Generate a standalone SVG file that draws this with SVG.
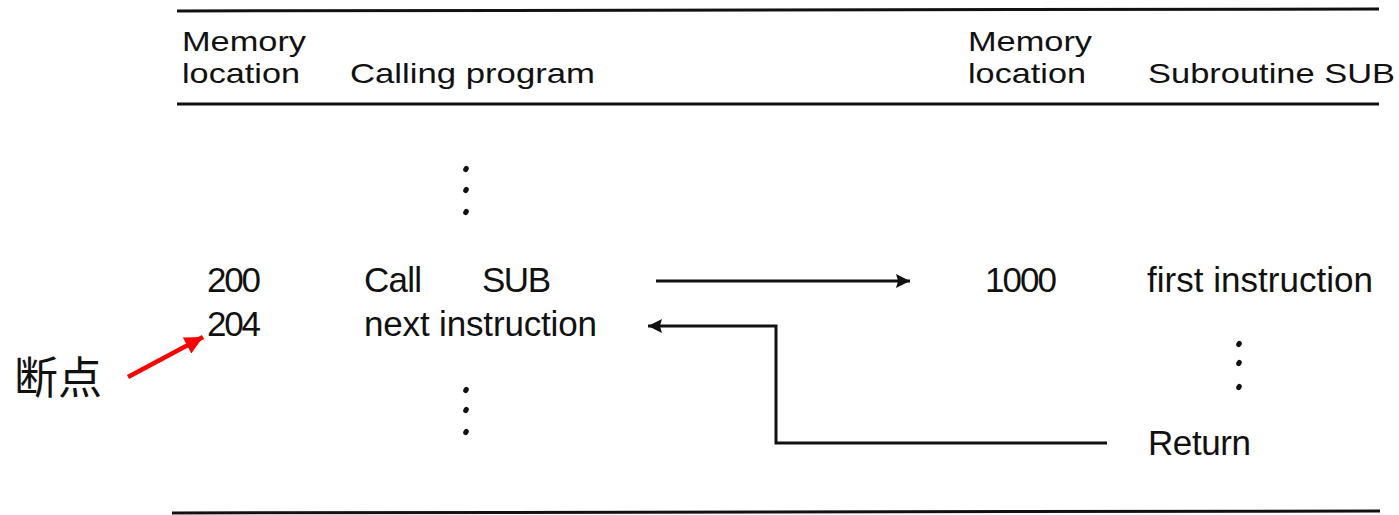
<svg xmlns="http://www.w3.org/2000/svg" width="1399" height="515" viewBox="0 0 1399 515">
<style>
.t{font-family:"Liberation Sans",Arial,sans-serif;fill:#111}
.h{font-size:28px}
.b{font-size:35px}
.rule{stroke:#111;stroke-width:3;fill:none}
.conn{stroke:#111;stroke-width:3;fill:none}
.dot{fill:#111}
</style>
<defs>
<marker id="ahb" viewBox="0 0 10 10" refX="10" refY="5" markerWidth="26" markerHeight="14" markerUnits="userSpaceOnUse" orient="auto">
<path d="M0,0 L10,5 L0,10 L1.5,5 Z" fill="#111"/>
</marker>
<marker id="ahr" viewBox="0 0 10 10" refX="10" refY="5" markerWidth="20" markerHeight="18" markerUnits="userSpaceOnUse" orient="auto">
<path d="M0,0 L10,5 L0,10 Z" fill="#f00"/>
</marker>
</defs>
<g id="rules">
<line class="rule" x1="177" y1="11" x2="1379" y2="9"/>
<line class="rule" x1="177" y1="104" x2="1379" y2="104"/>
<line class="rule" x1="172" y1="513" x2="1380" y2="511"/>
</g>
<g id="header">
<text class="t h" x="182" y="51" textLength="124" lengthAdjust="spacingAndGlyphs">Memory</text>
<text class="t h" x="182" y="83" textLength="118" lengthAdjust="spacingAndGlyphs">location</text>
<text class="t h" x="350" y="83" textLength="245" lengthAdjust="spacingAndGlyphs">Calling program</text>
<text class="t h" x="968" y="51" textLength="124" lengthAdjust="spacingAndGlyphs">Memory</text>
<text class="t h" x="968" y="83" textLength="118" lengthAdjust="spacingAndGlyphs">location</text>
<text class="t h" x="1148" y="83" textLength="247" lengthAdjust="spacingAndGlyphs">Subroutine SUB</text>
</g>
<g id="node-200">
<text class="t b" x="207" y="292" textLength="54">200</text>
<text class="t b" x="364" y="292" textLength="58">Call</text>
<text class="t b" x="482" y="292" textLength="69">SUB</text>
</g>
<g id="node-204">
<text class="t b" x="207" y="336" textLength="54">204</text>
<text class="t b" x="364" y="336" textLength="233">next instruction</text>
</g>
<g id="node-1000">
<text class="t b" x="985" y="292" textLength="72">1000</text>
<text class="t b" x="1147" y="292" textLength="226">first instruction</text>
</g>
<g id="node-return">
<text class="t b" x="1148" y="455" textLength="103">Return</text>
</g>
<g id="ellipses">
<ellipse class="dot" cx="466" cy="169" rx="2.6" ry="3.2" transform="rotate(30 466 169)"/>
<ellipse class="dot" cx="466" cy="190" rx="2.6" ry="3.2" transform="rotate(30 466 190)"/>
<ellipse class="dot" cx="466" cy="212" rx="2.6" ry="3.2" transform="rotate(30 466 212)"/>
<ellipse class="dot" cx="466" cy="390" rx="2.6" ry="3.2" transform="rotate(30 466 390)"/>
<ellipse class="dot" cx="466" cy="410" rx="2.6" ry="3.2" transform="rotate(30 466 410)"/>
<ellipse class="dot" cx="466" cy="432" rx="2.6" ry="3.2" transform="rotate(30 466 432)"/>
<ellipse class="dot" cx="1239" cy="344" rx="2.6" ry="3.2" transform="rotate(30 1239 344)"/>
<ellipse class="dot" cx="1239" cy="363" rx="2.6" ry="3.2" transform="rotate(30 1239 363)"/>
<ellipse class="dot" cx="1239" cy="387" rx="2.6" ry="3.2" transform="rotate(30 1239 387)"/>
</g>
<g id="breakpoint">
<text x="14" y="394" style="font-family:'Noto Sans CJK SC',sans-serif;font-size:44px;fill:#111">断点</text>
</g>
<g id="connectors">
<path class="conn" d="M656,281 L910,281" marker-end="url(#ahb)"/>
<path class="conn" d="M1107,443 L776,443 L776,326 L648,326" marker-end="url(#ahb)"/>
<path d="M128,377 L203,337" stroke="#f00" stroke-width="4.5" fill="none" marker-end="url(#ahr)"/>
</g>
</svg>
